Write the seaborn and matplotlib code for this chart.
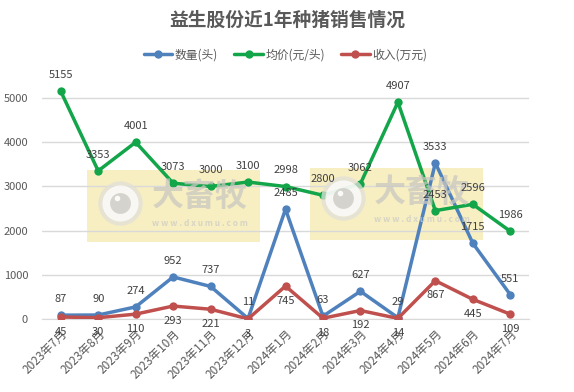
import matplotlib
matplotlib.use("Agg")
import matplotlib.pyplot as plt
import seaborn as sns
import pandas as pd
import numpy as np
from matplotlib.patches import Rectangle

months = ["2023年7月", "2023年8月", "2023年9月", "2023年10月", "2023年11月", "2023年12月",
          "2024年1月", "2024年2月", "2024年3月", "2024年4月", "2024年5月", "2024年6月", "2024年7月"]
qty = [87, 90, 274, 952, 737, 11, 2485, 63, 627, 29, 3533, 1715, 551]
price = [5155, 3353, 4001, 3073, 3000, 3100, 2998, 2800, 3062, 4907, 2453, 2596, 1986]
revenue = [45, 30, 110, 293, 221, 3, 745, 18, 192, 14, 867, 445, 109]
series_names = ["数量(头)", "均价(元/头)", "收入(万元)"]
yticks = [0, 1000, 2000, 3000, 4000, 5000]

sns.set_style("white")
plt.rcParams['font.family'] = ['Noto Sans CJK SC', 'DejaVu Sans']

colors = ["#4f81bd", "#13a54a", "#c0504d"]
fig = plt.figure(figsize=(5.74, 3.92), dpi=100)
ax = fig.add_axes([42/574, (392-319)/392, 487/574, (319-76)/392])

x = np.arange(len(months))
df = pd.DataFrame({"x": np.tile(x, 3),
                   "v": qty + price + revenue,
                   "s": np.repeat(series_names, len(months))})

# watermark panels (x0, x1, y0, y1, logo_x, logo_y, text_x, text_y)
panels = [(0.695, 5.32, 1742, 3371, 1.58, 2624, 3.72, 2760, 2170),
          (6.66, 11.28, 1787, 3416, 7.54, 2738, 9.63, 2850, 2260)]
for (x0, x1, y0, y1, lx, ly, tx, ty, uy) in panels:
    ax.add_patch(Rectangle((x0, y0), x1 - x0, y1 - y0, facecolor="#f7efc2",
                           edgecolor="none", zorder=0))
    ax.plot([lx], [ly], marker="o", markersize=32, markerfacecolor="#e2e0d8",
            markeredgewidth=0, zorder=4, alpha=0.75)
    ax.plot([lx], [ly], marker="o", markersize=26, markerfacecolor="#ffffff",
            markeredgewidth=0, zorder=4, alpha=0.75)
    ax.plot([lx], [ly], marker="o", markersize=15, markerfacecolor="#cdcbc4",
            markeredgewidth=0, zorder=4, alpha=0.8)
    ax.plot([lx - 0.08], [ly + 120], marker="o", markersize=4, markerfacecolor="#ffffff",
            markeredgewidth=0, zorder=4, alpha=0.9)
    ax.text(tx, ty, "大畜牧", fontsize=23, fontweight="bold",
            color="#c9c7c0", ha="center", va="center", zorder=4, alpha=0.75)
    ax.text(tx, uy, "w w w . d x u m u . c o m", fontsize=6, fontweight="bold",
            color="#cfcdc6", ha="center", va="center", zorder=4, alpha=0.8)

sns.lineplot(data=df, x="x", y="v", hue="s", palette=colors, marker="o",
             markersize=6, markeredgewidth=0, linewidth=2.5, ax=ax, zorder=3,
             legend=True)

for i in x:
    ax.annotate(str(qty[i]), (i, qty[i]), xytext=(0, 8), textcoords="offset points",
                ha="center", va="bottom", fontsize=8, color="#404040", zorder=5)
    ax.annotate(str(price[i]), (i, price[i]), xytext=(0, 8), textcoords="offset points",
                ha="center", va="bottom", fontsize=8, color="#404040", zorder=5)
    ax.annotate(str(revenue[i]), (i, revenue[i]), xytext=(0, -7), textcoords="offset points",
                ha="center", va="top", fontsize=8, color="#404040", zorder=5)

ax.set_xlim(-0.5, len(months) - 0.5)
ax.set_ylim(0, 5500)
ax.set_yticks(yticks)
ax.set_yticklabels([str(t) for t in yticks])
ax.set_xticks(x)
ax.set_xticklabels(months, rotation=45, ha="right", rotation_mode="anchor")
ax.set_xticks(np.arange(-0.5, len(months), 1), minor=True)
ax.tick_params(axis="x", which="major", length=0, pad=6, labelsize=8.5, colors="#595959")
ax.tick_params(axis="x", which="minor", length=5, color="#d9d9d9", width=1)
ax.tick_params(axis="y", length=0, labelsize=8, colors="#595959", pad=10)
ax.grid(axis="y", color="#d9d9d9", linewidth=1)
ax.set_axisbelow(True)
for sp in ["left", "right", "top"]:
    ax.spines[sp].set_visible(False)
ax.spines["bottom"].set_color("#d9d9d9")
ax.set_xlabel("")
ax.set_ylabel("")

h, l = ax.get_legend_handles_labels()
ax.legend(h, l, loc="center", bbox_to_anchor=(0.5, (392 - 55 - 73) / (319 - 76)), ncol=3,
          frameon=False, fontsize=8.5, handlelength=2.4, columnspacing=1.4,
          labelcolor="#595959", handletextpad=0.2)

fig.text(0.5, 1 - 20/392, "益生股份近1年种猪销售情况", ha="center", va="center",
         fontsize=13.5, fontweight="bold", color="#595959")

fig.savefig("out.png", dpi=100, facecolor="white")
